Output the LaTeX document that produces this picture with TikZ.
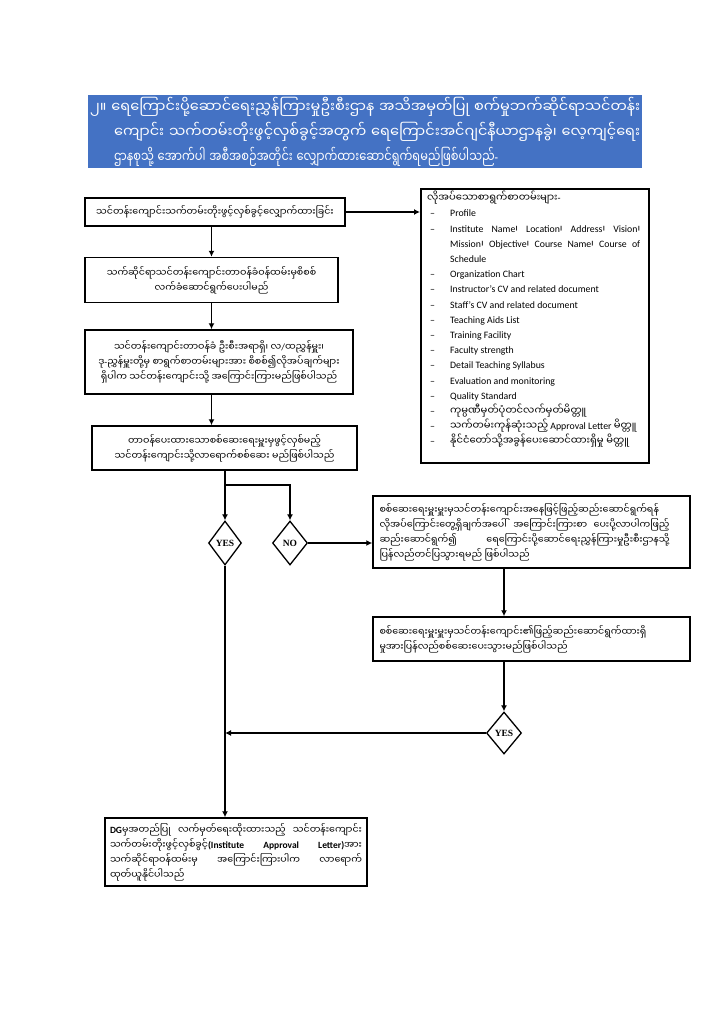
\documentclass[tikz,border=0pt]{standalone}
\usepackage{fontspec}
\usepackage{graphicx}
\setmainfont{Liberation Serif}
\newfontfamily\my[Script=Myanmar]{Noto Sans Myanmar UI}
\newfontfamily\lat{Carlito}
\usetikzlibrary{arrows.meta,shapes.geometric}
\definecolor{titleblue}{HTML}{4472C4}
\newcommand\mys{{\my ၊}}
\newcommand\itm[1]{\par\noindent\hangindent=23pt\hangafter=1\makebox[23pt][l]{\hspace{3pt}–}#1}
\begin{document}
\begin{tikzpicture}[x=1pt,y=-1pt,
  box/.style={draw, line width=1.5pt, inner sep=0pt, align=center, font=\my\fontsize{9.5}{15}\selectfont},
  dec/.style={draw, diamond, line width=1.3pt, inner sep=0pt, font=\fontsize{9.5}{10}\selectfont\bfseries},
  arr/.style={line width=1.2pt, -{Latex[length=6pt,width=6pt]}}]
\useasboundingbox (0,0) rectangle (724,1023);
\fill[white] (0,0) rectangle (724,1023);

% title band
\node[fill=titleblue, text=white, anchor=north west, inner xsep=2pt, inner ysep=0pt,
  minimum height=73, text width=550pt, align=left, font=\my\fontsize{14.5}{25}\selectfont] (title) at (88,95)
  {\resizebox{550pt}{\height}{၂။ ရေကြောင်းပို့ဆောင်ရေးညွှန်ကြားမှုဦးစီးဌာန အသိအမှတ်ပြု စက်မှုဘက်ဆိုင်ရာသင်တန်း}\\
   \hspace*{24pt}\resizebox{526pt}{\height}{ကျောင်း သက်တမ်းတိုးဖွင့်လှစ်ခွင့်အတွက် ရေကြောင်းအင်ဂျင်နီယာဌာနခွဲ၊ လေ့ကျင့်ရေး}\\
   \hspace*{24pt}\resizebox{384pt}{\height}{ဌာနစုသို့ အောက်ပါ အစီအစဉ်အတိုင်း လျှောက်ထားဆောင်ရွက်ရမည်ဖြစ်ပါသည်{\lat -}}};

% left column
\node[box, minimum width=260, minimum height=28] (b1) at (215,212)
  {သင်တန်းကျောင်းသက်တမ်းတိုးဖွင့်လှစ်ခွင့်လျှောက်ထားခြင်း};
\node[box, minimum width=253, minimum height=45] (b2) at (211.5,280)
  {သက်ဆိုင်ရာသင်တန်းကျောင်းတာဝန်ခံဝန်ထမ်းမှစိစစ်\\လက်ခံဆောင်ရွက်ပေးပါမည်};
\node[box, minimum width=268, minimum height=64] (b3) at (219,362)
  {သင်တန်းကျောင်းတာဝန်ခံ ဦးစီးအရာရှိ၊ လ{\lat /}ထညွှန်မှူး၊\\ဒု{\lat -}ညွှန်မှူးတို့မှ စာရွက်စာတမ်းများအား စိစစ်၍လိုအပ်ချက်များ\\ရှိပါက သင်တန်းကျောင်းသို့ အကြောင်းကြားမည်ဖြစ်ပါသည်};
\node[box, minimum width=265, minimum height=44] (b4) at (224.5,448)
  {တာဝန်ပေးထားသောစစ်ဆေးရေးမှူးမှဖွင့်လှစ်မည့်\\သင်တန်းကျောင်းသို့လာရောက်စစ်ဆေး မည်ဖြစ်ပါသည်};

\node[dec, minimum width=33, minimum height=44] (yes1) at (225,543) {YES};
\node[dec, minimum width=35, minimum height=44] (no) at (290,543) {NO};

% right column
\node[draw, line width=1.5pt, minimum width=228, minimum height=274, anchor=north west, inner sep=0] (req) at (420,188) {};
\node[anchor=north west, inner sep=0, text width=213, align=justify, font=\lat\fontsize{9.8}{15.2}\selectfont] (reqtext) at (427,191) {%
\noindent{\my\fontsize{10}{15.2}\selectfont လိုအပ်သောစာရွက်စာတမ်းများ}-
\itm{Profile}
\itm{Institute Name\mys{} Location\mys{} Address\mys{} Vision\mys\linebreak Mission\mys{} Objective\mys{} Course Name\mys{} Course of\linebreak Schedule}
\itm{Organization Chart}
\itm{Instructor’s CV and related document}
\itm{Staff’s CV and related document}
\itm{Teaching Aids List}
\itm{Training Facility}
\itm{Faculty strength}
\itm{Detail Teaching Syllabus}
\itm{Evaluation and monitoring}
\itm{Quality Standard}
\itm{\mbox{\my\fontsize{10}{15.2}\selectfont ကုမ္ပဏီမှတ်ပုံတင်လက်မှတ်မိတ္တူ}}
\itm{\mbox{{\my\fontsize{10}{15.2}\selectfont သက်တမ်းကုန်ဆုံးသည့်} Approval Letter {\my\fontsize{10}{15.2}\selectfont မိတ္တူ}}}
\itm{\mbox{\my\fontsize{10}{15.2}\selectfont နိုင်ငံတော်သို့အခွန်ပေးဆောင်ထားရှိမှု မိတ္တူ}}};

\node[box, minimum width=317, minimum height=72] (b5) at (531.5,532)
  {\parbox{290pt}{စစ်ဆေးရေးမှူးမှူးမှသင်တန်းကျောင်းအနေဖြင့်ဖြည့်ဆည်းဆောင်ရွက်ရန်\linebreak လိုအပ်ကြောင်းတွေ့ရှိချက်အပေါ် အကြောင်းကြားစာ ပေးပို့လာပါကဖြည့်\linebreak ဆည်းဆောင်ရွက်၍ ရေကြောင်းပို့ဆောင်ရေးညွှန်ကြားမှုဦးစီးဌာနသို့\linebreak ပြန်လည်တင်ပြသွားရမည် ဖြစ်ပါသည်}\hspace{14pt}};
\node[box, minimum width=317, minimum height=44] (b6) at (531.5,639)
  {\parbox{294pt}{စစ်ဆေးရေးမှူးမှူးမှသင်တန်းကျောင်း၏ဖြည့်ဆည်းဆောင်ရွက်ထားရှိ\\မှုအားပြန်လည်စစ်ဆေးပေးသွားမည်ဖြစ်ပါသည်}\hspace{10pt}};
\node[dec, minimum width=35, minimum height=42] (yes2) at (504,733) {YES};

\node[box, minimum width=262, minimum height=68] (b7) at (236,852)
  {\parbox{252pt}{{\lat\bfseries DG}မှအတည်ပြု လက်မှတ်ရေးထိုးထားသည့် သင်တန်းကျောင်း\linebreak သက်တမ်းတိုးဖွင့်လှစ်ခွင့်{\lat\bfseries (Institute Approval Letter)}အား\linebreak သက်ဆိုင်ရာဝန်ထမ်းမှ အကြောင်းကြားပါက လာရောက်\linebreak ထုတ်ယူနိုင်ပါသည်}};

% connectors
\coordinate (br) at (225,485);
\draw[arr] (b1.east) -- (b1.east -| req.west);
\draw[arr] (b1.south -| b2.north) -- (b2.north);
\draw[arr] (b2.south) -- (b2.south |- b3.north);
\draw[arr] (b2.south |- b3.south) -- (b2.south |- b4.north);
\draw[arr] (yes1.north |- b4.south) -- (yes1.north);
\draw[arr] (br) -| (no.north);
\draw[arr] (no.east) -- (no.east -| b5.west);
\draw[arr] (b5.south -| yes2.north) -- (b6.north -| yes2.north);
\draw[arr] (b6.south -| yes2.north) -- (yes2.north);
\draw[arr] (yes2.west) -- (yes2.west -| yes1.south);
\draw[arr] (yes1.south) -- (yes1.south |- b7.north);
\end{tikzpicture}
\end{document}
